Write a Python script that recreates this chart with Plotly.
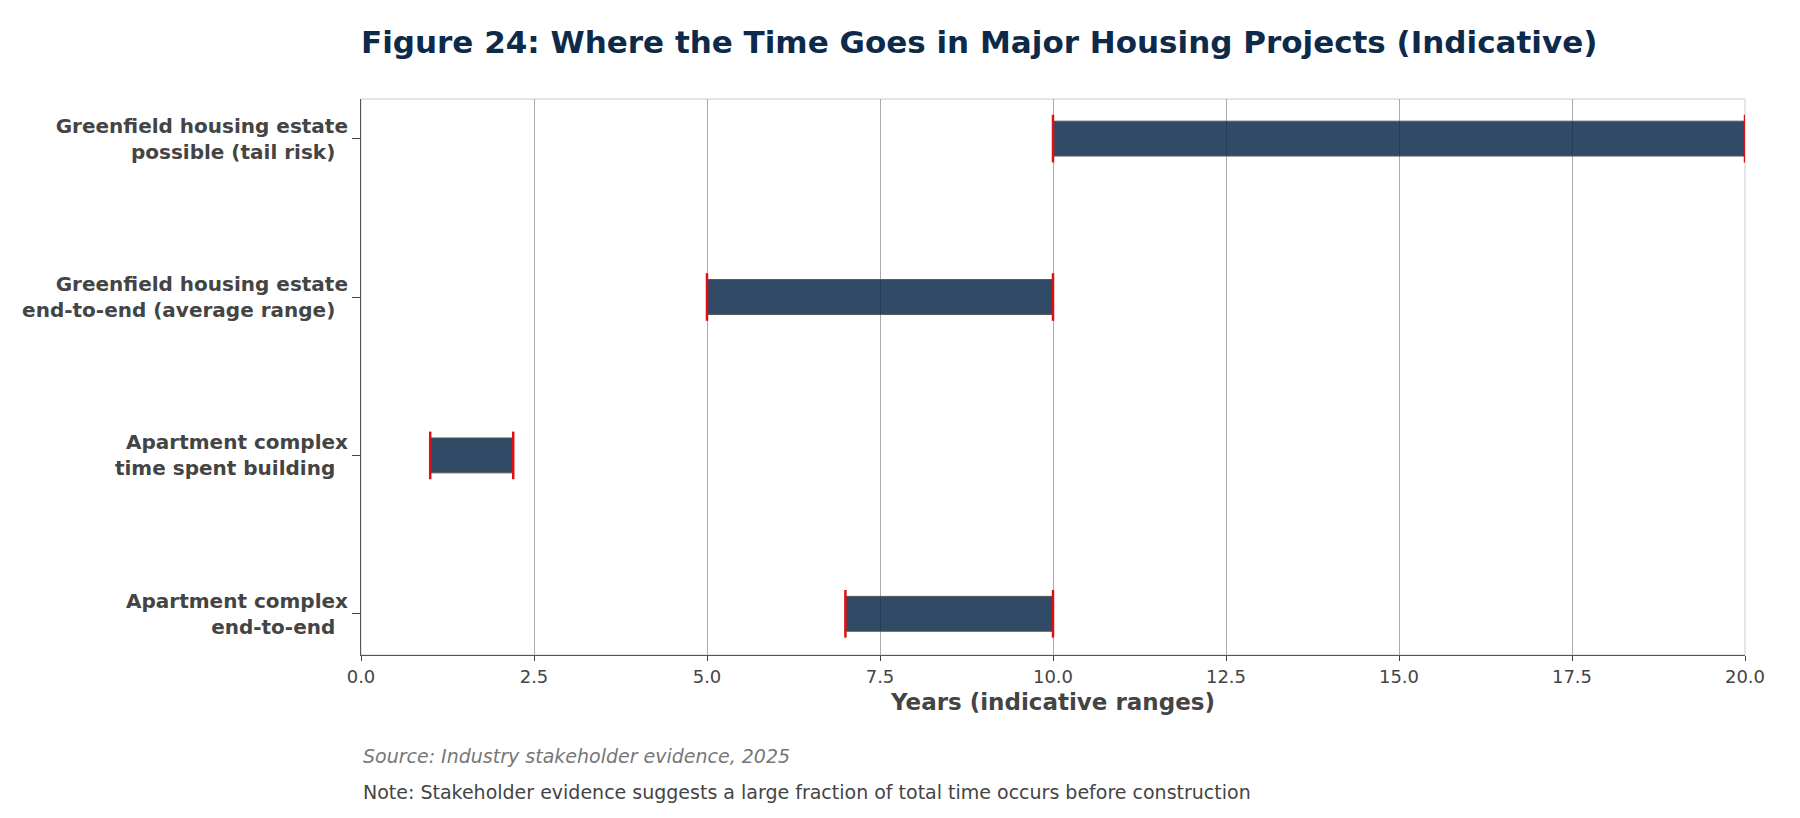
import plotly.graph_objects as go

categories = ["Apartment complex<br>end-to-end", "Apartment complex<br>time spent building",
              "Greenfield housing estate<br>end-to-end (average range)", "Greenfield housing estate<br>possible (tail risk)"]
starts = [7.0, 1.0, 5.0, 10.0]
ends = [10.0, 2.2, 10.0, 20.0]
ticks = [0, 2.5, 5, 7.5, 10, 12.5, 15, 17.5, 20]

fig = go.Figure()
fig.add_trace(go.Bar(y=categories, x=[e - s for s, e in zip(starts, ends)], base=starts, orientation="h",
                     width=0.22, marker=dict(color="rgba(13,42,74,0.85)", line=dict(color="#555", width=1)),
                     showlegend=False))
for xs in (starts, ends):
    fig.add_trace(go.Scatter(x=xs, y=categories, mode="markers", showlegend=False,
                             marker=dict(symbol="line-ns", size=34, line=dict(color="#d11", width=2.5))))
fig.update_layout(
    width=1800, height=818, paper_bgcolor="white", plot_bgcolor="white",
    font=dict(family="DejaVu Sans", color="#444"),
    margin=dict(l=353, r=63, t=91, b=171),
    title=dict(text="<b>Figure 24: Where the Time Goes in Major Housing Projects (Indicative)</b>",
               x=353/1800, xanchor="left", y=0.972, font=dict(size=31, color="#0d2a4a")),
)
fig.update_xaxes(range=[0, 20], tickvals=ticks, ticktext=[f"{t:.1f}" for t in ticks],
                 showgrid=True, gridcolor="#aaa", gridwidth=1.3, ticks="outside", ticklen=5,
                 tickfont=dict(size=18), showline=True, linecolor="#555", mirror=False,
                 title=dict(text="<b>Years (indicative ranges)</b>", font=dict(size=23), standoff=8),
                 zeroline=False)
fig.update_yaxes(categoryorder="array", categoryarray=categories, range=[-0.26, 3.25],
                 ticks="outside", ticklen=8, tickfont=dict(size=20), showline=True, linecolor="#555",
                 showgrid=False, tickprefix="<b>", ticksuffix="</b>  ")
fig.add_shape(type="rect", xref="paper", yref="paper", x0=0, x1=1, y0=0, y1=1,
              line=dict(color="#ccc", width=1), layer="below")
fig.add_annotation(text="<i>Source: Industry stakeholder evidence, 2025</i>", xref="paper", yref="paper",
                   x=0, y=-0.205, xanchor="left", showarrow=False, font=dict(size=19, color="#777"))
fig.add_annotation(text="Note: Stakeholder evidence suggests a large fraction of total time occurs before construction",
                   xref="paper", yref="paper", x=0, y=-0.27, xanchor="left", showarrow=False,
                   font=dict(size=19, color="#444"))
fig.write_html("out.html")
